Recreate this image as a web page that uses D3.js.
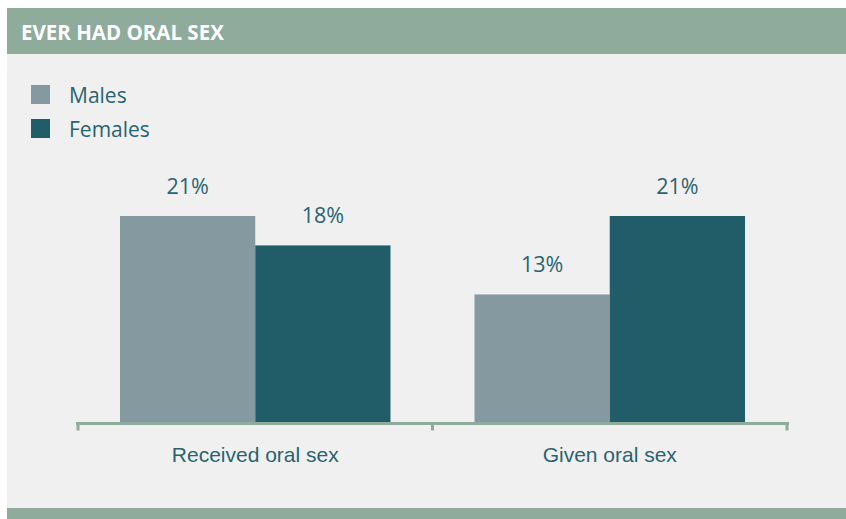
<!DOCTYPE html>
<html><head><meta charset="utf-8">
<script src="https://cdn.jsdelivr.net/npm/d3@7"></script>
<style>body{margin:0;background:#fff;}svg{display:block;font-family:"Open Sans",sans-serif;}</style>
</head><body><svg id="c" width="846" height="519"></svg>
<script>
// data
const title = "EVER HAD ORAL SEX";
const categories = ["Received oral sex", "Given oral sex"];
const seriesNames = ["Males", "Females"];
const maleValues = [21, 13];
const femaleValues = [18, 21];
const seriesColors = ["#8599a0", "#215c69"];

const svg = d3.select("#c");
const W = 846, H = 519;
const green = "#8fab9c", textC = "#2a6370";

svg.append("rect").attr("x",7).attr("y",8).attr("width",W-7).attr("height",46).attr("fill",green);
svg.append("rect").attr("x",7).attr("y",54).attr("width",W-7).attr("height",454).attr("fill","#f0f0f0");
svg.append("rect").attr("x",7).attr("y",508).attr("width",W-7).attr("height",11).attr("fill",green);
svg.append("text").attr("x",21).attr("y",39.5).attr("fill","#fff").attr("font-weight","bold")
  .attr("font-size",20.5).text(title);

// legend
seriesNames.forEach((s,i)=>{
  const y = 85 + i*34;
  svg.append("rect").attr("x",31).attr("y",y).attr("width",19).attr("height",19).attr("fill",seriesColors[i]);
  svg.append("text").attr("x",69).attr("y",y+18).attr("font-size",21).attr("fill",textC).text(s);
});

const x0 = d3.scaleBand().domain(categories).range([78,787]).paddingInner(0).paddingOuter(0);
const x1 = d3.scaleBand().domain(seriesNames).range([42, x0.bandwidth()-42]).padding(0);
const y = d3.scaleLinear().domain([0,21]).range([422,216]);

const data = categories.map((c,i)=>({cat:c, vals:[maleValues[i], femaleValues[i]]}));
const g = svg.append("g");
data.forEach(d=>{
  d.vals.forEach((v,j)=>{
    const bx = x0(d.cat)+x1(seriesNames[j]);
    g.append("rect").attr("x",bx).attr("y",y(v)).attr("width",x1.bandwidth()).attr("height",y(0)-y(v)).attr("fill",seriesColors[j]);
    g.append("text").attr("x",bx+x1.bandwidth()/2).attr("y",y(v)-22).attr("text-anchor","middle")
      .attr("font-size",21.5).attr("fill",textC).text(v+"%");
  });
});

// axis
const axisG = svg.append("g").attr("transform","translate(0,423.5)");
const ax = d3.axisBottom(x0).tickSize(0).tickPadding(0).tickFormat("");
axisG.call(ax);
axisG.select(".domain").remove();
axisG.append("line").attr("x1",76).attr("x2",789).attr("y1",0).attr("y2",0).attr("stroke",green).attr("stroke-width",3);
const edges = [x0.range()[0]].concat(categories.map(c=>x0(c)+x0.bandwidth()));
edges.forEach(e=>{
  axisG.append("line").attr("x1",e).attr("x2",e).attr("y1",0).attr("y2",7).attr("stroke",green).attr("stroke-width",3);
});
categories.forEach(c=>{
  axisG.append("text").attr("x",x0(c)+x0.bandwidth()/2).attr("y",38.5).attr("text-anchor","middle")
    .attr("font-size",21).attr("fill",textC).text(c);
});
</script>
</body></html>
